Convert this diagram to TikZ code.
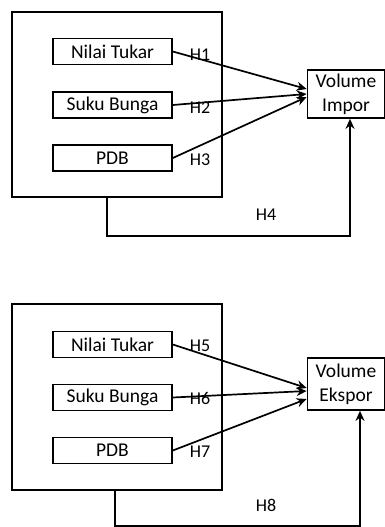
\documentclass[tikz,border=0pt]{standalone}
\usepackage{fontspec}
\setmainfont{Carlito}
\usetikzlibrary{positioning, arrows.meta, calc}
\tikzset{
  varbox/.style={
    draw,
    rectangle,
    line width=1.6pt,
    minimum width=119pt,
    minimum height=26pt,
    inner sep=0pt,
    font=\fontsize{19.5}{22}\selectfont
  },
  groupbox/.style={
    draw,
    rectangle,
    line width=2pt,
    minimum width=210pt,
    inner sep=0pt
  },
  targetbox/.style={
    draw,
    rectangle,
    line width=1.7pt,
    minimum width=77pt,
    align=center,
    inner sep=0pt,
    font=\fontsize{19.5}{24}\selectfont
  },
  hlabel/.style={
    font=\fontsize{18}{20}\selectfont,
    inner sep=0pt
  },
  arr/.style={
    line width=1.7pt,
    -{Stealth[length=10pt, width=9pt]}
  }
}

\begin{document}
\begin{tikzpicture}[x=1pt, y=-1pt]
    \useasboundingbox (0,0) rectangle (385,527);

    % impor
    \node[groupbox, minimum height=185pt] (outer1) at (117,104.5) {};
    \node[varbox] (nilai1) at (112.5,51.5) {Nilai Tukar};
    \node[varbox] (suku1) at (112.5,105) {Suku Bunga};
    \node[varbox] (pdb1) at (112.5,158) {PDB};
    \node[targetbox, minimum height=48pt] (impor) at (346,94) {Volume\\Impor};

    \draw[arr] (nilai1.east) -- ([yshift=5pt]impor.west);
    \draw[arr] (suku1.east) -- ([yshift=0pt]impor.west);
    \draw[arr] (pdb1.east) -- ([yshift=-3pt]impor.west);
    \node[hlabel] (h1) at (200,55) {H1};
    \node[hlabel] (h2) at (200,108) {H2};
    \node[hlabel] (h3) at (200,160) {H3};

    \coordinate (fb1) at ([xshift=-10pt]outer1.south);
    \draw[arr] (fb1) -- ++(0,38) -| ([xshift=4pt]impor.south);
    \node[hlabel] (h4) at (266,215) {H4};

    % ekspor
    \node[groupbox, minimum height=186pt] (outer2) at (117,397) {};
    \node[varbox] (nilai2) at (112.5,344.5) {Nilai Tukar};
    \node[varbox] (suku2) at (112.5,397.5) {Suku Bunga};
    \node[varbox] (pdb2) at (112.5,450.5) {PDB};
    \node[targetbox, minimum height=52pt] (ekspor) at (346,384) {Volume\\Ekspor};

    \draw[arr] (nilai2.east) -- ([yshift=-4pt]ekspor.west);
    \draw[arr] (suku2.east) -- ([yshift=-7pt]ekspor.west);
    \draw[arr] (pdb2.east) -- ([yshift=-15pt]ekspor.west);
    \node[hlabel] (h5) at (200,346) {H5};
    \node[hlabel] (h6) at (200,398) {H6};
    \node[hlabel] (h7) at (200,452) {H7};

    \coordinate (fb2) at ([xshift=-2pt]outer2.south);
    \draw[arr] (fb2) -- ++(0,35) -| ([xshift=14pt]ekspor.south);
    \node[hlabel] (h8) at (266,505) {H8};
\end{tikzpicture}
\end{document}
